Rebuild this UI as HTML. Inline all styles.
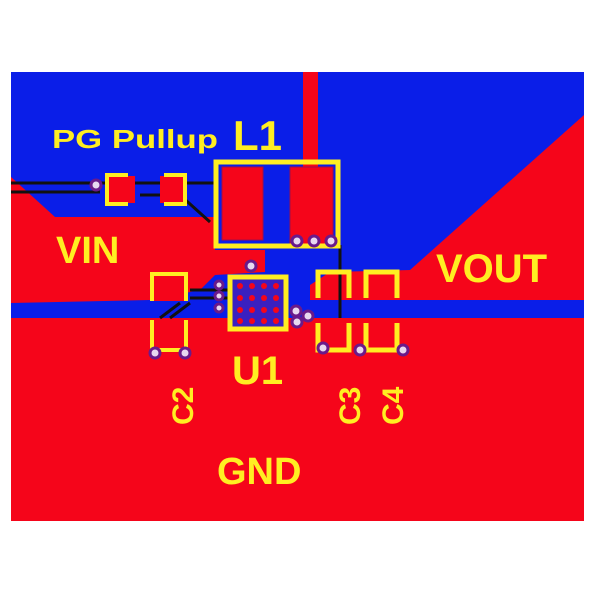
<!DOCTYPE html>
<html><head><style>
html,body{margin:0;padding:0;background:#fff;width:600px;height:600px;overflow:hidden}
svg text{font-family:"Liberation Sans",sans-serif;fill:#ffee22;font-weight:bold}
</style></head><body>
<svg width="600" height="600" viewBox="0 0 600 600" xmlns="http://www.w3.org/2000/svg">
<rect x="0" y="0" width="600" height="600" fill="#fff"/>
<rect x="11" y="72" width="573" height="449" fill="#0a1ee8"/>
<rect x="11" y="318" width="573" height="203" fill="#f5051a"/>
<polygon points="11,177 55,217 215,217 215,250 265,250 265,272 215,275 200,290 150,300 11,303" fill="#f5051a"/>
<polygon points="584,115 584,300 310,300 310,285 330,272 410,270" fill="#f5051a"/>
<rect x="303" y="72" width="15" height="95" fill="#f5051a"/>
<g stroke="#111" stroke-width="3" fill="none">
<path d="M11,183 H215"/><path d="M11,192 H100"/>
<path d="M140,195 L180,195 L210,222"/>
<path d="M190,290 H228"/><path d="M190,298 H228"/>
<path d="M160,318 L180,303"/><path d="M170,318 L190,303"/>
<path d="M340,245 V318"/>
</g>
<rect x="222" y="167" width="41" height="73" fill="#f5051a" stroke="#a0104a" stroke-width="1"/>
<rect x="290" y="167" width="43" height="78" fill="#f5051a" stroke="#a0104a" stroke-width="1"/>
<rect x="216" y="162" width="122" height="84" fill="none" stroke="#ffee22" stroke-width="5"/>
<rect x="108" y="176" width="27" height="27" fill="#f5051a"/>
<rect x="160" y="176" width="25" height="27" fill="#f5051a"/>
<path d="M128,175 H107 V204 H128 M164,175 H185 V204 H164" fill="none" stroke="#ffee22" stroke-width="4"/>
<rect x="152" y="274" width="34" height="27" fill="#f5051a"/>
<path d="M152,301 V274 H186 V301" fill="none" stroke="#ffee22" stroke-width="4"/>
<path d="M152,320 V350 H186 V320" fill="none" stroke="#ffee22" stroke-width="4"/>
<path d="M318,298 V272 H349 V298 M366,298 V272 H397 V298" fill="none" stroke="#ffee22" stroke-width="5"/>
<path d="M318,323 V350 H349 V323 M366,323 V350 H397 V323" fill="none" stroke="#ffee22" stroke-width="5"/>
<rect x="230" y="277" width="56" height="52" fill="#3a20c0" stroke="#ffee22" stroke-width="5"/>
<g fill="#f5051a">
<circle cx="240" cy="286" r="3"/><circle cx="252" cy="286" r="3"/><circle cx="264" cy="286" r="3"/><circle cx="276" cy="286" r="3"/>
<circle cx="240" cy="298" r="3"/><circle cx="252" cy="298" r="3"/><circle cx="264" cy="298" r="3"/><circle cx="276" cy="298" r="3"/>
<circle cx="240" cy="310" r="3"/><circle cx="252" cy="310" r="3"/><circle cx="264" cy="310" r="3"/><circle cx="276" cy="310" r="3"/>
<circle cx="240" cy="321" r="3"/><circle cx="252" cy="321" r="3"/><circle cx="264" cy="321" r="3"/><circle cx="276" cy="321" r="3"/>
</g>
<g fill="#e8d8f0" stroke="#6a1a8a" stroke-width="3">
<circle cx="96" cy="185" r="5"/>
<circle cx="297" cy="241" r="5"/><circle cx="314" cy="241" r="5"/><circle cx="331" cy="241" r="5"/>
<circle cx="251" cy="266" r="5"/>
<circle cx="219" cy="285" r="4"/><circle cx="219" cy="296" r="4"/><circle cx="219" cy="308" r="4"/>
<circle cx="296" cy="311" r="5"/><circle cx="308" cy="316" r="5"/><circle cx="297" cy="322" r="5"/>
<circle cx="155" cy="353" r="5"/><circle cx="185" cy="353" r="5"/>
<circle cx="323" cy="348" r="5"/><circle cx="360" cy="350" r="5"/><circle cx="403" cy="350" r="5"/>
</g>
<text x="52" y="148" font-size="26" font-weight="normal" textLength="166" lengthAdjust="spacingAndGlyphs">PG Pullup</text>
<text x="233" y="150" font-size="42" font-weight="normal">L1</text>
<text x="56" y="263" font-size="38">VIN</text>
<text x="436" y="282" font-size="40">VOUT</text>
<text x="232" y="384" font-size="40">U1</text>
<text x="217" y="484" font-size="38">GND</text>
<text transform="translate(193,425) rotate(-90)" font-size="30" font-weight="normal">C2</text>
<text transform="translate(360,425) rotate(-90)" font-size="30" font-weight="normal">C3</text>
<text transform="translate(403,425) rotate(-90)" font-size="30" font-weight="normal">C4</text>
</svg>
</body></html>
